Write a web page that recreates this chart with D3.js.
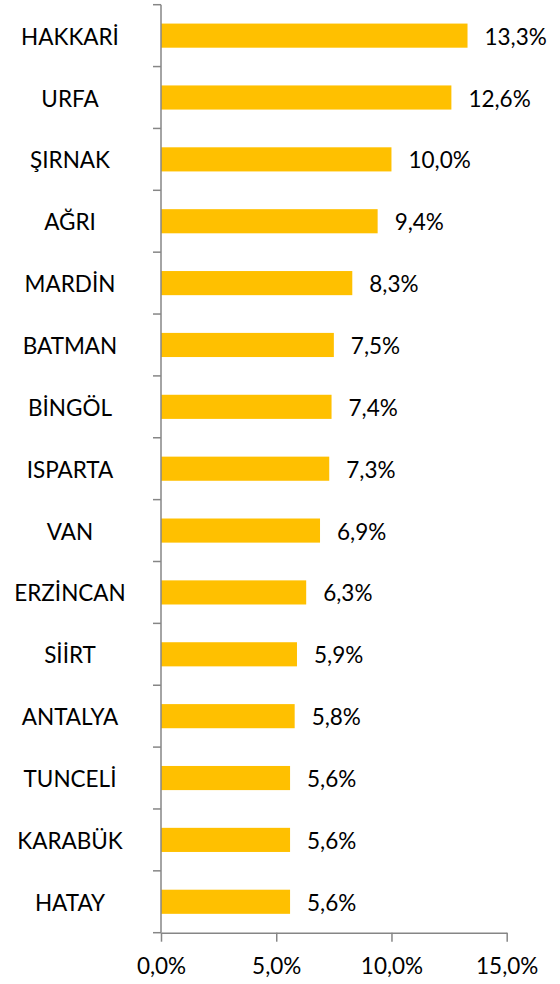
<!DOCTYPE html>
<html>
<head>
<meta charset="utf-8">
<script src="https://cdn.jsdelivr.net/npm/d3@7/dist/d3.min.js"></script>
<style>
  html, body { margin: 0; padding: 0; background: #fff; }
  svg { display: block; }
  text { font-family: Lato, "Open Sans", sans-serif; fill: #000; }
</style>
</head>
<body>
<svg id="chart" width="560" height="984"></svg>
<script>
const categories = ["HAKKARİ","URFA","ŞIRNAK","AĞRI","MARDİN","BATMAN","BİNGÖL","ISPARTA","VAN","ERZİNCAN","SİİRT","ANTALYA","TUNCELİ","KARABÜK","HATAY"];
const values = [13.3,12.6,10.0,9.4,8.3,7.5,7.4,7.3,6.9,6.3,5.9,5.8,5.6,5.6,5.6];
const xTicks = [0,5,10,15];

(function () {
const svg = d3.select("#chart");
const mLeft = 161, mTop = 4.7, mRight = 506.7, mBottom = 932.7;
const fmt = v => v.toFixed(1).replace(".", ",") + "%";

const x = d3.scaleLinear().domain([0, 15]).range([mLeft, mRight]);
const y = d3.scaleBand().domain(categories).range([mTop, mBottom]).padding(0);
const barH = y.bandwidth() * 0.39;
const axisColor = "#868686";

// bars
svg.append("g").selectAll("rect").data(categories).join("rect")
  .attr("x", x(0))
  .attr("y", d => y(d) + (y.bandwidth() - barH) / 2)
  .attr("width", (d, i) => x(values[i]) - x(0))
  .attr("height", barH)
  .attr("fill", "#FFC000");

// value labels
svg.append("g").selectAll("text").data(categories).join("text")
  .attr("x", (d, i) => x(values[i]) + 17)
  .attr("y", d => y(d) + y.bandwidth() / 2)
  .attr("dy", "0.4em")
  .attr("font-size", 22.5)
  .text((d, i) => fmt(values[i]));

// category labels (centered)
svg.append("g").selectAll("text").data(categories).join("text")
  .attr("x", 70)
  .attr("y", d => y(d) + y.bandwidth() / 2)
  .attr("dy", "0.4em")
  .attr("text-anchor", "middle")
  .attr("font-size", 22.5)
  .text(d => d);

// y axis: line + ticks at band boundaries
const boundaries = categories.map(c => y(c)).concat([mBottom]);
const ya = svg.append("g");
ya.append("line").attr("x1", mLeft).attr("x2", mLeft).attr("y1", mTop).attr("y2", mBottom)
  .attr("stroke", axisColor).attr("stroke-width", 1.5);
ya.selectAll("line.t").data(boundaries).join("line").attr("class", "t")
  .attr("x1", mLeft - 8).attr("x2", mLeft).attr("y1", d => d).attr("y2", d => d)
  .attr("stroke", axisColor).attr("stroke-width", 1.5);

// x axis
const xAxis = d3.axisBottom(x).tickValues(xTicks).tickSize(9).tickSizeOuter(0).tickFormat(fmt);
const xa = svg.append("g").attr("transform", `translate(0,${mBottom})`).call(xAxis);
xa.select(".domain").attr("stroke", axisColor).attr("stroke-width", 1.5);
xa.selectAll(".tick line").attr("stroke", axisColor).attr("stroke-width", 1.5);
xa.selectAll(".tick text").attr("font-size", 22.5).attr("font-family", "Lato, 'Open Sans', sans-serif")
  .attr("fill", "#000").attr("y", 25).attr("dy", "0.71em");
})();
</script>
</body>
</html>
